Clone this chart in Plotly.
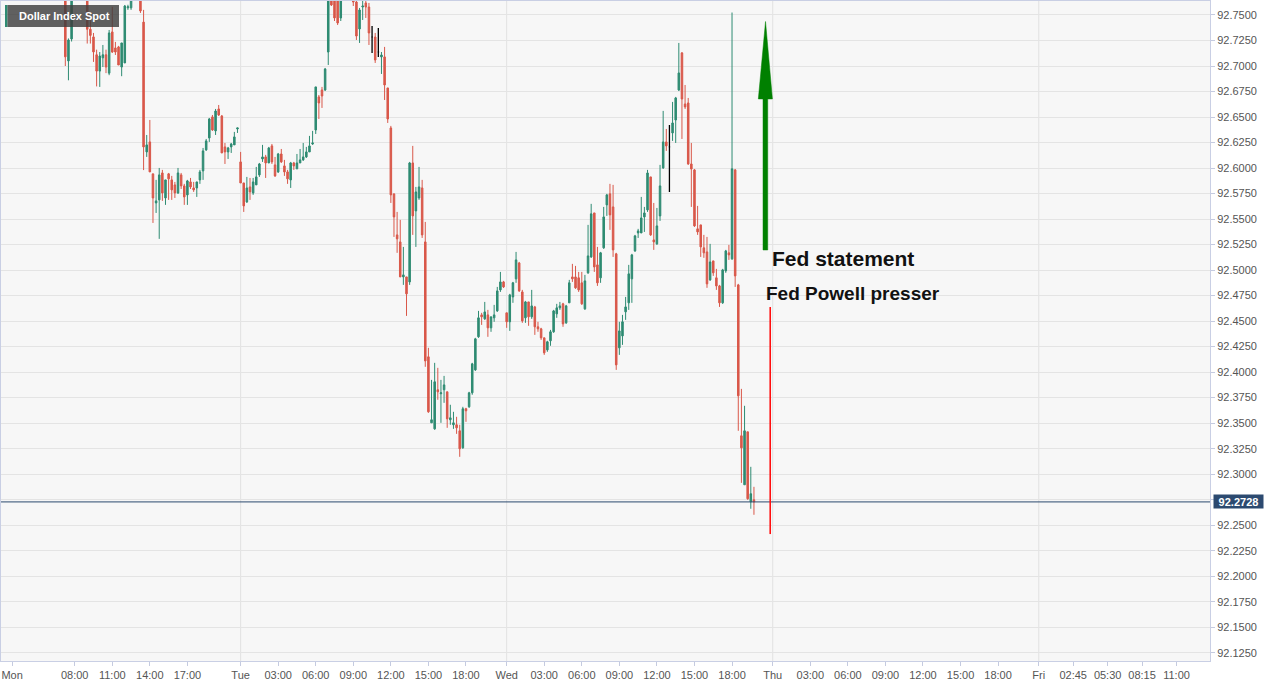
import plotly.graph_objects as go

# ---------------- data (15-minute candles, slot index on a trading-time axis) -------------
first_slot = 21
opens = [
    92.772, 92.705, 92.7265, 92.770, 92.785, 92.780, 92.788, 92.776, 92.736, 92.7285,
    92.711, 92.695, 92.708, 92.711, 92.693, 92.7334, 92.7177, 92.7187, 92.699, 92.703,
    92.757, 92.757, 92.770, 92.780, 92.772, 92.743, 92.6158, 92.6256, 92.5943, 92.5658,
    92.5688, 92.5952, 92.5707, 92.5943, 92.5884, 92.5835, 92.5756, 92.5933, 92.5825, 92.5737,
    92.5864, 92.5805, 92.5805, 92.5884, 92.5972, 92.6178, 92.6295, 92.6501, 92.6364, 92.6579,
    92.6510, 92.6207, 92.6158, 92.6207, 92.6227, 92.6383, 92.6060, 92.5854, 92.5668, 92.5815,
    92.5756, 92.5835, 92.5933, 92.6089, 92.6109, 92.6050, 92.6217, 92.6031, 92.5962, 92.6138,
    92.6021, 92.5962, 92.5884, 92.6050, 92.5992, 92.6050, 92.6080, 92.6109, 92.6158, 92.6236,
    92.6373, 92.6697, 92.6765, 92.6765, 92.7137, 92.770, 92.772, 92.768, 92.7471, 92.770,
    92.780, 92.778, 92.768, 92.7627, 92.7363, 92.7578, 92.7618, 92.7578, 92.7284, 92.7284,
    92.7137, 92.7089, 92.7089, 92.6785, 92.6393, 92.5747, 92.5345, 92.5276, 92.4933, 92.4933,
    92.4884, 92.6050, 92.5580, 92.5707, 92.5805, 92.5276, 92.4150, 92.3503, 92.3444, 92.3827,
    92.3788, 92.3827, 92.3807, 92.3533, 92.3484, 92.3484, 92.3425, 92.3258, 92.3641, 92.3660,
    92.3797, 92.4022, 92.4346, 92.4561, 92.4522, 92.4561, 92.4434, 92.4532, 92.4600, 92.4806,
    92.4884, 92.4581, 92.4493, 92.4737, 92.4914, 92.5070, 92.4786, 92.4532, 92.4688, 92.4542,
    92.4639, 92.4444, 92.4424, 92.4336, 92.4218, 92.4307, 92.4395, 92.4571, 92.4630, 92.4669,
    92.4483, 92.4679, 92.4933, 92.4933, 92.4924, 92.4875, 92.4620, 92.4973, 92.5129, 92.5560,
    92.5051, 92.4924, 92.5218, 92.5639, 92.5747, 92.5619, 92.5159, 92.4238, 92.4355, 92.4591,
    92.4679, 92.4914, 92.5188, 92.5364, 92.5364, 92.5521, 92.5590, 92.5913, 92.5296, 92.5257,
    92.5531, 92.6001, 92.6256, 92.6207, 92.6344, 92.6471, 92.6765, 92.7128, 92.6628, 92.6638,
    92.6040, 92.5982, 92.5404, 92.5443, 92.5218, 92.5178, 92.4904, 92.5090, 92.4924, 92.4845,
    92.4679, 92.4992, 92.5169, 92.5110, 92.5982, 92.4855, 92.3376, 92.2896, 92.3415, 92.2729,
    92.2749,
]
highs = [
    92.776, 92.727, 92.773, 92.790, 92.795, 92.792, 92.792, 92.780, 92.745, 92.7324,
    92.716, 92.7137, 92.7206, 92.716, 92.7353, 92.758, 92.7236, 92.7197, 92.7226, 92.7598,
    92.760, 92.775, 92.785, 92.790, 92.776, 92.755, 92.6324, 92.6471, 92.5943, 92.5884,
    92.6001, 92.5982, 92.5884, 92.5952, 92.5923, 92.5864, 92.6001, 92.5952, 92.5845, 92.5884,
    92.5903, 92.5864, 92.5864, 92.5982, 92.6197, 92.6285, 92.6491, 92.6520, 92.6579, 92.6618,
    92.6520, 92.6246, 92.6207, 92.6246, 92.6354, 92.6393, 92.6158, 92.5854, 92.5913, 92.5903,
    92.5903, 92.6011, 92.6050, 92.6227, 92.6129, 92.6207, 92.6236, 92.6109, 92.6148, 92.6187,
    92.6080, 92.5982, 92.6060, 92.6060, 92.6138, 92.6187, 92.6246, 92.6207, 92.6315, 92.6364,
    92.6795, 92.6716, 92.6795, 92.6981, 92.775, 92.776, 92.778, 92.772, 92.776, 92.785,
    92.790, 92.782, 92.772, 92.766, 92.7569, 92.766, 92.766, 92.7618, 92.7392, 92.7324,
    92.7373, 92.7137, 92.7187, 92.6785, 92.6413, 92.5747, 92.5570, 92.5492, 92.5227, 92.4933,
    92.6060, 92.6217, 92.5815, 92.6011, 92.5884, 92.5472, 92.4238, 92.3924, 92.4091, 92.4042,
    92.3924, 92.3963, 92.3807, 92.3680, 92.3611, 92.3562, 92.3484, 92.3660, 92.3650, 92.3807,
    92.4091, 92.4336, 92.4600, 92.4581, 92.4688, 92.4610, 92.4542, 92.4659, 92.4835, 92.4982,
    92.4894, 92.4581, 92.4767, 92.4884, 92.5178, 92.5080, 92.4806, 92.4698, 92.4688, 92.4806,
    92.4649, 92.4493, 92.4434, 92.4336, 92.4307, 92.4414, 92.4610, 92.4669, 92.4688, 92.4679,
    92.4659, 92.4904, 92.5061, 92.5041, 92.4982, 92.4982, 92.4953, 92.5443, 92.5649, 92.5560,
    92.5227, 92.5178, 92.5619, 92.5747, 92.5845, 92.5835, 92.5169, 92.4493, 92.4561, 92.4737,
    92.5051, 92.5159, 92.5345, 92.5404, 92.5717, 92.5619, 92.5982, 92.5913, 92.5658, 92.5609,
    92.6031, 92.6560, 92.6383, 92.6422, 92.6648, 92.6697, 92.7226, 92.7137, 92.6814, 92.6687,
    92.6246, 92.5991, 92.5629, 92.5443, 92.5345, 92.5325, 92.5257, 92.5090, 92.5012, 92.4855,
    92.5012, 92.5198, 92.5247, 92.7524, 92.5991, 92.4865, 92.3836, 92.3670, 92.3415, 92.3072,
    92.2876,
]
lows = [
    92.700, 92.686, 92.724, 92.767, 92.775, 92.772, 92.772, 92.722, 92.722, 92.704,
    92.680, 92.6795, 92.699, 92.693, 92.691, 92.7128, 92.7108, 92.701, 92.690, 92.703,
    92.755, 92.755, 92.766, 92.768, 92.752, 92.598, 92.6109, 92.5962, 92.5462, 92.556,
    92.5306, 92.5678, 92.5639, 92.5688, 92.5688, 92.5707, 92.5746, 92.5795, 92.5639, 92.5639,
    92.5795, 92.5766, 92.5717, 92.5845, 92.5884, 92.6168, 92.6256, 92.6364, 92.6324, 92.6510,
    92.6148, 92.6040, 92.6089, 92.6148, 92.6227, 92.6344, 92.5854, 92.5570, 92.5658, 92.5688,
    92.5737, 92.5835, 92.5913, 92.6060, 92.5903, 92.6050, 92.6040, 92.5913, 92.5952, 92.6050,
    92.5923, 92.5845, 92.5805, 92.5982, 92.5992, 92.6050, 92.6070, 92.6099, 92.6158, 92.6227,
    92.6334, 92.6481, 92.6589, 92.6755, 92.7010, 92.7588, 92.7441, 92.7402, 92.7441, 92.767,
    92.772, 92.766, 92.7588, 92.7255, 92.7226, 92.7451, 92.7471, 92.7206, 92.7128, 92.7030,
    92.7089, 92.6922, 92.6667, 92.6442, 92.5658, 92.5325, 92.5169, 92.4933, 92.4855, 92.4551,
    92.4855, 92.5345, 92.5227, 92.5688, 92.5315, 92.4052, 92.3601, 92.3503, 92.3435, 92.3729,
    92.3503, 92.3699, 92.3454, 92.3484, 92.3444, 92.3395, 92.3170, 92.3249, 92.3513, 92.3650,
    92.3778, 92.4012, 92.4336, 92.4463, 92.4512, 92.4346, 92.4395, 92.4493, 92.4590, 92.4786,
    92.4825, 92.4434, 92.4404, 92.4679, 92.4875, 92.4786, 92.4483, 92.4483, 92.4454, 92.4522,
    92.4365, 92.4395, 92.4316, 92.4169, 92.4199, 92.4258, 92.4385, 92.4532, 92.4610, 92.4444,
    92.4473, 92.4679, 92.4884, 92.4816, 92.4786, 92.4659, 92.4610, 92.4963, 92.5119, 92.4982,
    92.4845, 92.4875, 92.5208, 92.5531, 92.5394, 92.5129, 92.4022, 92.4169, 92.4267, 92.4512,
    92.4610, 92.4679, 92.5178, 92.5315, 92.5364, 92.5374, 92.5570, 92.5335, 92.5198, 92.5247,
    92.5482, 92.5992, 92.6168, 92.5766, 92.6266, 92.6246, 92.6755, 92.6285, 92.6579, 92.6031,
    92.5619, 92.5423, 92.5345, 92.5129, 92.5120, 92.4826, 92.4894, 92.4943, 92.4806, 92.4639,
    92.4669, 92.4973, 92.5100, 92.5100, 92.4835, 92.3425, 92.2915, 92.2896, 92.2749, 92.2661,
    92.2602,
]
closes = [
    92.709, 92.7255, 92.770, 92.785, 92.780, 92.788, 92.776, 92.736, 92.730, 92.7138,
    92.695, 92.7098, 92.711, 92.699, 92.7324, 92.7137, 92.7137, 92.701, 92.7226, 92.7588,
    92.758, 92.770, 92.780, 92.772, 92.754, 92.6207, 92.6227, 92.5962, 92.5707, 92.5678,
    92.5933, 92.5756, 92.5884, 92.5894, 92.5786, 92.5756, 92.5952, 92.5825, 92.5717, 92.5874,
    92.5815, 92.5786, 92.5864, 92.5962, 92.6168, 92.6266, 92.6481, 92.6373, 92.6559, 92.6520,
    92.6148, 92.6158, 92.6197, 92.6236, 92.6305, 92.6393, 92.5854, 92.5629, 92.5805, 92.5766,
    92.5864, 92.5913, 92.6040, 92.6109, 92.6050, 92.6197, 92.6060, 92.5923, 92.6138, 92.6060,
    92.5962, 92.5894, 92.6050, 92.6021, 92.6050, 92.6080, 92.6109, 92.6158, 92.6217, 92.6246,
    92.6795, 92.6638, 92.6706, 92.6971, 92.770, 92.7598, 92.7471, 92.7422, 92.770, 92.780,
    92.778, 92.768, 92.7627, 92.7294, 92.7549, 92.7588, 92.7578, 92.7324, 92.7284, 92.7059,
    92.7137, 92.7108, 92.6814, 92.6481, 92.5737, 92.5521, 92.5306, 92.4933, 92.4953, 92.4767,
    92.6050, 92.5531, 92.5766, 92.5815, 92.5345, 92.4110, 92.3611, 92.3533, 92.3905, 92.3807,
    92.3797, 92.3875, 92.3542, 92.3552, 92.3503, 92.3454, 92.3249, 92.3641, 92.3621, 92.3797,
    92.4081, 92.4326, 92.4532, 92.4542, 92.4590, 92.4434, 92.4542, 92.4561, 92.4796, 92.4884,
    92.4835, 92.4493, 92.4757, 92.4875, 92.5100, 92.4796, 92.4502, 92.4688, 92.4542, 92.4649,
    92.4444, 92.4424, 92.4336, 92.4189, 92.4297, 92.4395, 92.4600, 92.4630, 92.4649, 92.4473,
    92.4649, 92.4875, 92.4914, 92.4826, 92.4806, 92.4669, 92.4894, 92.5139, 92.5551, 92.5031,
    92.4875, 92.5169, 92.5521, 92.5737, 92.5541, 92.5198, 92.4071, 92.4404, 92.4493, 92.4639,
    92.4963, 92.5149, 92.5335, 92.5384, 92.5511, 92.5560, 92.5952, 92.5345, 92.5276, 92.5433,
    92.5825, 92.6256, 92.6217, 92.6207, 92.6442, 92.6687, 92.6932, 92.6677, 92.6599, 92.6040,
    92.5991, 92.5433, 92.5374, 92.5227, 92.5169, 92.4865, 92.5080, 92.4973, 92.4845, 92.4679,
    92.5002, 92.5188, 92.5149, 92.5992, 92.4943, 92.3768, 92.3258, 92.3425, 92.2759, 92.2808,
    92.2728,
]
doji_slots = [119, 121, 214]          # unchanged candles drawn in black

tick_slots = [4, 24, 36, 48, 60, 77, 89, 101, 113, 125, 137, 149, 162, 174, 186, 198,
              210, 222, 234, 247, 259, 271, 283, 295, 307, 319, 332, 343, 354, 365, 376]
tick_labels = ["Mon", "08:00", "11:00", "14:00", "17:00", "Tue", "03:00", "06:00", "09:00",
               "12:00", "15:00", "18:00", "Wed", "03:00", "06:00", "09:00", "12:00", "15:00",
               "18:00", "Thu", "03:00", "06:00", "09:00", "12:00", "15:00", "18:00", "Fri",
               "02:45", "05:30", "08:15", "11:00"]
day_labels = ["Tue", "Wed", "Thu", "Fri"]

# annotation anchors (axis units)
statement_label = (246.1, 92.5118)
presser_label = (244.2, 92.4766)
presser_line = (246.2, 92.4638, 92.2413)
arrow_shaft = (243.9, 245.4, 92.5197, 92.6677)
arrow_head = (242.4, 246.9, 244.7, 92.6677, 92.7436)

# ---------------- build ------------------------------------------------------------------
slots = [first_slot + i for i in range(len(opens))]
main_idx = [i for i, s in enumerate(slots) if s not in doji_slots]
doji_idx = [i for i, s in enumerate(slots) if s in doji_slots]

GREEN = "#2e8b72"
RED = "#d9584a"
FONT = "Liberation Sans, Arial, sans-serif"

fig = go.Figure()
fig.add_trace(go.Candlestick(
    x=[slots[i] for i in main_idx],
    open=[opens[i] for i in main_idx], high=[highs[i] for i in main_idx],
    low=[lows[i] for i in main_idx], close=[closes[i] for i in main_idx],
    increasing=dict(line=dict(color=GREEN, width=1), fillcolor=GREEN),
    decreasing=dict(line=dict(color=RED, width=1), fillcolor=RED),
    whiskerwidth=0, showlegend=False, hoverinfo="skip",
))
fig.add_trace(go.Candlestick(
    x=[slots[i] for i in doji_idx],
    open=[opens[i] for i in doji_idx], high=[highs[i] for i in doji_idx],
    low=[lows[i] for i in doji_idx], close=[closes[i] for i in doji_idx],
    increasing=dict(line=dict(color="#000000", width=1.3), fillcolor="#000000"),
    decreasing=dict(line=dict(color="#000000", width=1.3), fillcolor="#000000"),
    whiskerwidth=0, showlegend=False, hoverinfo="skip",
))

shapes = []
for lab, pos in zip(tick_labels, tick_slots):
    if lab in day_labels:
        shapes.append(dict(type="line", xref="x", yref="paper", x0=pos, x1=pos, y0=0, y1=1,
                           line=dict(color="#e2e2e2", width=1), layer="below"))
last_close = closes[-1]
shapes.append(dict(type="line", xref="paper", yref="y", x0=0, x1=1, y0=last_close, y1=last_close,
                   line=dict(color="#2b4a6f", width=1), layer="above"))
# red presser line
shapes.append(dict(type="line", xref="x", yref="y", x0=presser_line[0], x1=presser_line[0],
                   y0=presser_line[1], y1=presser_line[2], line=dict(color="#ff1010", width=1.6)))
# green arrow
sx0, sx1, sy0, sy1 = arrow_shaft
hx0, hx1, hxt, hy0, hyt = arrow_head
path = (f"M{sx0},{sy0} L{sx1},{sy0} L{sx1},{sy1} L{hx1},{hy0} L{hxt},{hyt} "
        f"L{hx0},{hy0} L{sx0},{sy1} Z")
shapes.append(dict(type="path", xref="x", yref="y", path=path, fillcolor="#008000",
                   line=dict(color="#008000", width=0.5)))
# title box
shapes.append(dict(type="rect", xref="paper", yref="paper", x0=0.0052, x1=0.0976,
                   y0=0.9606, y1=0.9939, fillcolor="rgba(62,62,62,0.82)", line=dict(width=0)))
shapes.append(dict(type="rect", xref="paper", yref="paper", x0=0.0033, x1=0.0052,
                   y0=0.9606, y1=0.9939, fillcolor=GREEN, line=dict(width=0)))

annotations = [
    dict(text="Dollar Index Spot", xref="paper", yref="paper", x=0.0132, y=0.9773,
         xanchor="left", yanchor="middle", showarrow=False,
         font=dict(family=FONT, size=11, color="white", weight="bold")),
    dict(text="Fed statement", xref="x", yref="y", x=statement_label[0], y=statement_label[1],
         xanchor="left", yanchor="middle", showarrow=False,
         font=dict(family=FONT, size=21, color="#111111", weight="bold")),
    dict(text="Fed Powell presser", xref="x", yref="y", x=presser_label[0], y=presser_label[1],
         xanchor="left", yanchor="middle", showarrow=False,
         font=dict(family=FONT, size=19, color="#111111", weight="bold")),
    dict(text=f"{last_close:.4f}", xref="paper", yref="y", x=1, y=last_close, xshift=3,
         xanchor="left", yanchor="middle", showarrow=False, bgcolor="#2c4a70",
         width=47, height=11, borderpad=1,
         font=dict(family=FONT, size=11, color="white", weight="bold")),
]

fig.update_layout(
    width=1281, height=687, autosize=False,
    margin=dict(l=1, r=71, t=1, b=26),
    paper_bgcolor="white", plot_bgcolor="#f7f7f7",
    font=dict(family=FONT, size=11, color="#555555"),
    shapes=shapes, annotations=annotations, showlegend=False,
    xaxis=dict(range=[0.45, 386.7], tickmode="array", tickvals=tick_slots, ticktext=tick_labels,
               ticks="outside", ticklen=4, tickcolor="#c5cbe0", showgrid=False, zeroline=False,
               showline=True, linecolor="#c9cfe4", mirror=True, rangeslider=dict(visible=False),
               ticklabeloverflow="allow", tickfont=dict(size=11, color="#555555")),
    yaxis=dict(side="right", range=[92.1169, 92.7637], tick0=92.125, dtick=0.025,
               tickformat=".4f", ticks="outside", ticklen=4, tickcolor="#c5cbe0",
               gridcolor="#e4e4e4", zeroline=False, showline=True, linecolor="#c9cfe4",
               mirror=True, tickfont=dict(size=11, color="#555555")),
)

fig.write_html("out.html", config={"displayModeBar": False},
               post_script="document.body.style.margin='0px';")
